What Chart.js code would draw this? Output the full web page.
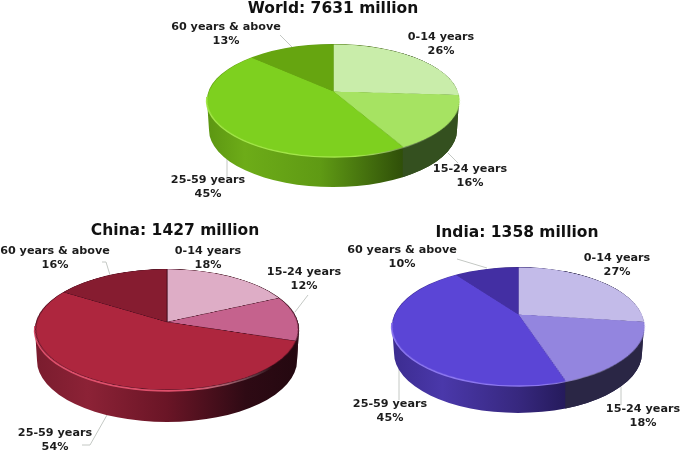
<!DOCTYPE html>
<html lang="en">
<head>
    <meta charset="UTF-8">
    <title>Population by age group</title>
    <script src="https://cdn.jsdelivr.net/npm/chart.js"></script>
    <style>
        html, body {
            margin: 0;
            padding: 0;
            background: #fff;
        }
        #page {
            position: relative;
            width: 685px;
            height: 452px;
            overflow: hidden;
            font-family: "DejaVu Sans", sans-serif;
            font-weight: bold;
            color: #1c1c1c;
        }
        #page canvas {
            position: absolute;
        }
        .title {
            position: absolute;
            font-size: 15.5px;
            line-height: 18px;
            white-space: nowrap;
            transform: translate(-50%, -50%);
            color: #111;
        }
        .label {
            position: absolute;
            font-size: 11.2px;
            line-height: 13.5px;
            text-align: center;
            white-space: nowrap;
            transform: translateX(-50%);
        }
    </style>
</head>
<body>
<div id="page">
    <canvas id="backdrop" width="685" height="452" style="left:0;top:0"></canvas>
</div>
<script>
    const categories = ["0-14 years", "15-24 years", "25-59 years", "60 years & above"];
    const worldValues = [26, 16, 45, 13];
    const chinaValues = [18, 12, 54, 16];
    const indiaValues = [27, 18, 45, 10];
    const chartTitles = ["World: 7631 million", "China: 1427 million", "India: 1358 million"];

    const pies = [
        {
            values: worldValues, title: chartTitles[0], titlePos: [333, 8],
            apex: [333, 91], top: 44, bottom: 156, halfWidth: 126, depth: 30,
            colors: ["#c9edaa", "#a6e362", "#7ed01f", "#66a510"],
            rim: "#a4e64a",
            wallStops: [[0, "#5c9612"], [0.15, "#6dac18"], [0.45, "#5f9a14"], [0.8, "#2c4a08"], [1, "#263f07"]],
            sideWall: "#34501f",
            border: null,
            labels: [[441, 37], [470, 169], [208, 180], [226, 27]],
            leaders: [[[448, 153], [458, 163]], [[227, 159], [227, 177]], [[280, 35], [292, 47]]]
        },
        {
            values: chinaValues, title: chartTitles[1], titlePos: [175, 230],
            apex: [167, 322], top: 269, bottom: 390, halfWidth: 132, depth: 31,
            colors: ["#deadc6", "#c5628d", "#ae263e", "#861c30"],
            rim: "#e0506c",
            wallStops: [[0, "#7a1c2e"], [0.2, "#8c2236"], [0.5, "#6a1526"], [0.8, "#2e0a14"], [1, "#240810"]],
            sideWall: "#30101a",
            border: "rgba(60,10,25,0.75)",
            labels: [[208, 251], [304, 272], [55, 433], [55, 251]],
            leaders: [[[295, 312], [308, 295]], [[107, 415], [90, 445], [82, 445]], [[110, 275], [106, 262], [102, 262]]]
        },
        {
            values: indiaValues, title: chartTitles[2], titlePos: [517, 232],
            apex: [518, 314], top: 267, bottom: 385, halfWidth: 126, depth: 27,
            colors: ["#c3bbe9", "#9385df", "#5b45d6", "#432fa3"],
            rim: "#8d78f0",
            wallStops: [[0, "#3c2c90"], [0.2, "#4a38aa"], [0.5, "#37287f"], [0.75, "#1f1650"], [1, "#1d1548"]],
            sideWall: "#2a2645",
            border: null,
            labels: [[617, 258], [643, 409], [390, 404], [402, 250]],
            leaders: [[[621, 387], [621, 405]], [[399, 368], [399, 400]], [[457, 259], [487, 268]]]
        }
    ];

    const page = document.getElementById("page");
    const backCtx = document.getElementById("backdrop").getContext("2d");

    // tilt a flat circle so it lands on the measured top, bottom and width
    const tiltFor = (pie) => {
        const up = pie.apex[1] - pie.top;
        const down = pie.bottom - pie.apex[1];
        const k = (down - up) / (down + up);
        const radius = pie.halfWidth * Math.sqrt(1 - k * k);
        const cos = up * (1 + k) / radius;
        return {
            k: k,
            radius: radius,
            angle: Math.acos(cos) * 180 / Math.PI,
            distance: radius * Math.sqrt(1 - cos * cos) / k
        };
    };

    const drawWall = (pie, tilt) => {
        const cx = pie.apex[0];
        const cy = (pie.top + pie.bottom) / 2;
        const rx = pie.halfWidth;
        const ry = (pie.bottom - pie.top) / 2;
        const left = cx - rx;

        backCtx.save();
        backCtx.beginPath();
        backCtx.ellipse(cx, cy + pie.depth, rx - 2, ry + 1, 0, Math.PI, 0, true);
        backCtx.lineTo(cx + rx, cy);
        backCtx.ellipse(cx, cy, rx, ry, 0, 0, Math.PI, true);
        backCtx.closePath();
        backCtx.clip();

        const grad = backCtx.createLinearGradient(left, 0, cx + rx, 0);
        pie.wallStops.forEach(s => grad.addColorStop(s[0], s[1]));
        backCtx.fillStyle = grad;
        backCtx.fillRect(left, cy - ry, rx * 2, ry * 2 + pie.depth + 4);

        // wall of the 15-24 slice, starts where that slice ends on the top face
        const share = (pie.values[0] + pie.values[1]) / 100;
        const theta = share * Math.PI * 2;
        const edgeX = cx + tilt.radius * Math.sin(theta) / (1 + tilt.k * Math.cos(theta));
        backCtx.fillStyle = pie.sideWall;
        backCtx.fillRect(edgeX, cy - ry, cx + rx - edgeX, ry * 2 + pie.depth + 4);
        backCtx.restore();

        const rimGrad = backCtx.createLinearGradient(left, 0, cx + rx, 0);
        rimGrad.addColorStop(0, pie.rim);
        rimGrad.addColorStop(0.6, pie.rim);
        rimGrad.addColorStop(0.9, "rgba(255,255,255,0)");
        backCtx.strokeStyle = rimGrad;
        backCtx.lineWidth = 2.4;
        backCtx.beginPath();
        backCtx.ellipse(cx, cy + 0.5, rx, ry, 0, Math.PI * 0.05, Math.PI * 1.02);
        backCtx.stroke();
    };

    const drawLeaders = (pie) => {
        backCtx.strokeStyle = "#c4c8c4";
        backCtx.lineWidth = 1;
        pie.leaders.forEach(line => {
            backCtx.beginPath();
            line.forEach((p, i) => i ? backCtx.lineTo(p[0], p[1]) : backCtx.moveTo(p[0], p[1]));
            backCtx.stroke();
        });
    };

    const addText = (pie) => {
        const title = document.createElement("div");
        title.className = "title";
        title.textContent = pie.title;
        title.style.left = pie.titlePos[0] + "px";
        title.style.top = pie.titlePos[1] + "px";
        page.appendChild(title);

        categories.forEach((name, i) => {
            const label = document.createElement("div");
            label.className = "label";
            label.innerHTML = name.replace("&", "&amp;") + "<br>" + pie.values[i] + "%";
            label.style.left = pie.labels[i][0] + "px";
            label.style.top = (pie.labels[i][1] - 7) + "px";
            page.appendChild(label);
        });
    };

    const drawPie = (pie, tilt) => {
        const size = Math.round(tilt.radius * 2);
        const canvas = document.createElement("canvas");
        canvas.width = size;
        canvas.height = size;
        canvas.style.width = size + "px";
        canvas.style.height = size + "px";
        canvas.style.left = (pie.apex[0] - size / 2) + "px";
        canvas.style.top = (pie.apex[1] - size / 2) + "px";
        canvas.style.transformOrigin = "50% 50%";
        canvas.style.transform = "perspective(" + tilt.distance + "px) rotateX(" + tilt.angle + "deg)";
        page.appendChild(canvas);

        new Chart(canvas, {
            type: "pie",
            data: {
                labels: categories,
                datasets: [{
                    data: pie.values,
                    backgroundColor: pie.colors,
                    borderColor: pie.border || pie.colors,
                    borderWidth: pie.border ? 1 : 0
                }]
            },
            options: {
                responsive: false,
                animation: false,
                layout: { padding: 0 },
                plugins: {
                    legend: { display: false },
                    tooltip: { enabled: false }
                }
            }
        });
    };

    pies.forEach(pie => {
        const tilt = tiltFor(pie);
        drawLeaders(pie);
        drawWall(pie, tilt);
        drawPie(pie, tilt);
        addText(pie);
    });
</script>
</body>
</html>
